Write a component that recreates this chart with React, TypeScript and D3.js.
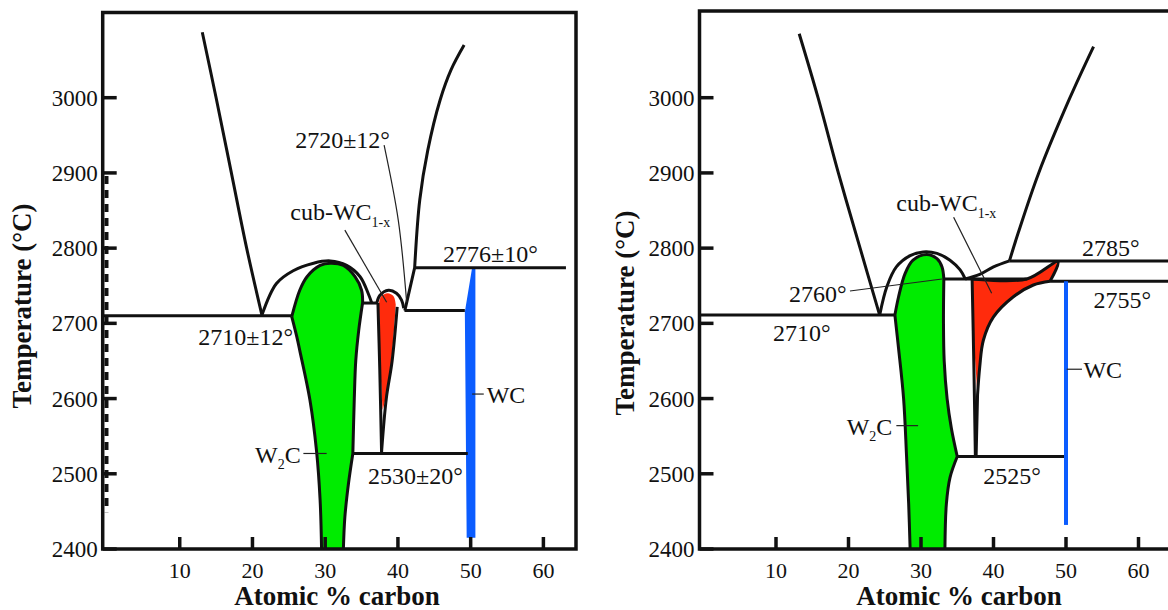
import React from 'react';
import * as d3 from 'd3';

type Pt = [number, number];

// axis ticks
const yTicks = [2400, 2500, 2600, 2700, 2800, 2900, 3000];
const xTicks = [10, 20, 30, 40, 50, 60];

// ---------- left diagram (atomic % C, °C) ----------
const leftLiqA: Pt[] = [[13.1, 3087], [15.0, 3000], [17.1, 2900], [19.2, 2800], [21.3, 2711]];
const rightLiqA: Pt[] = [[49.1, 3070], [47.3, 3037], [45.8, 2997], [44.1, 2930], [43.0, 2864], [42.3, 2774]];
const rightLiqLowA: Pt[] = [[42.3, 2774], [40.95, 2717]];
const domeA: Pt[] = [[21.3, 2711], [23.3, 2753], [25.6, 2770], [28.4, 2780], [30.7, 2783], [32.95, 2777], [34.8, 2762], [35.9, 2740], [36.4, 2727]];
const w2cTopA: Pt[] = [[25.4, 2709], [26.5, 2744], [27.5, 2762], [29.3, 2777], [30.7, 2780], [32.5, 2777], [34.1, 2762], [35.0, 2744], [35.15, 2728]];
const w2cRightA: Pt[] = [[35.15, 2728], [34.6, 2690], [34.2, 2650], [34.0, 2600], [33.8, 2527]];
const w2cRightLowA: Pt[] = [[33.8, 2527], [33.2, 2487], [32.7, 2442], [32.5, 2400]];
const w2cLeftA: Pt[] = [[29.5, 2400], [29.3, 2465], [28.8, 2531], [27.9, 2598], [26.5, 2664], [26.1, 2682], [25.4, 2709]];
const cubDomeA: Pt[] = [[37.1, 2727], [37.5, 2737], [38.7, 2744], [39.8, 2740], [40.5, 2731], [40.8, 2720]];
const cubFillTopA: Pt[] = [[37.4, 2727], [37.7, 2736], [38.6, 2740], [39.4, 2736], [39.7, 2725]];
const cubFillRightA: Pt[] = [[39.7, 2725], [39.1, 2650], [38.3, 2600], [37.9, 2585]];
const cubFillLeftA: Pt[] = [[37.9, 2585], [37.55, 2650], [37.4, 2727]];
const cubLeftA: Pt[] = [[37.25, 2727], [37.5, 2640], [37.75, 2529]];
const cubRightA: Pt[] = [[39.9, 2722], [39.2, 2650], [38.4, 2600], [37.75, 2529]];
const wcBandA: Pt[] = [[50.2, 2774], [50.65, 2774], [50.65, 2415], [49.45, 2415], [49.3, 2600], [49.2, 2715]];
const isoA: Pt[][] = [
  [[-0.6, 2710], [25.4, 2710]],
  [[40.9, 2717], [49.2, 2717]],
  [[42.3, 2774], [63.1, 2774]],
  [[35.15, 2727], [37.2, 2727]],
  [[33.8, 2527], [49.6, 2527]],
];
const dashedA: Pt[] = [[-0.07, 2896], [-0.07, 2449]];
const leadersA: Pt[][] = [
  [[38.1, 2937], [40.05, 2837], [41.2, 2728]],
  [[32.7, 2824], [38.45, 2728]],
  [[27.0, 2527], [30.2, 2527]],
  [[50.2, 2606], [51.8, 2606]],
];
const labelsA = [
  { t: '2720±12°', x: 38.9, y: 2933, anchor: 'end' },
  { t: '2776±10°', x: 46.2, y: 2781, anchor: 'start' },
  { t: '2710±12°', x: 12.55, y: 2671, anchor: 'start' },
  { t: '2530±20°', x: 35.9, y: 2486, anchor: 'start' },
  { t: 'WC', x: 52.2, y: 2594, anchor: 'start' },
];
const cubLabelA: Pt = [25.2, 2837];
const w2cLabelA: Pt = [20.35, 2514];

// ---------- right diagram ----------
const leftLiqB: Pt[] = [[13.2, 3085], [15.8, 3000], [18.6, 2900], [21.6, 2800], [24.3, 2711]];
const rightLiqB: Pt[] = [[53.8, 3068], [50.5, 2999], [46.2, 2899], [43.4, 2820], [42.2, 2783]];
const domeB: Pt[] = [[24.3, 2711], [25.3, 2749], [26.6, 2775], [28.5, 2790], [30.3, 2795], [32.2, 2793], [34.0, 2784], [35.4, 2771], [36.1, 2759]];
const cubLiqB: Pt[] = [[36.1, 2759], [38.1, 2765], [40.0, 2775], [42.2, 2783]];
const w2cTopB: Pt[] = [[26.4, 2711], [26.9, 2735], [27.8, 2766], [28.9, 2784], [30.8, 2791.5], [32.2, 2786], [32.9, 2775], [33.15, 2759]];
const w2cRightB: Pt[] = [[33.15, 2759], [33.1, 2700], [33.2, 2650], [33.6, 2600], [34.2, 2560], [35.0, 2523]];
const w2cRightLowB: Pt[] = [[35.0, 2523], [34.0, 2495], [33.5, 2460], [33.3, 2400]];
const w2cLeftB: Pt[] = [[28.5, 2400], [28.3, 2460], [28.0, 2525], [27.6, 2600], [26.9, 2667], [26.4, 2711]];
const cubTopB: Pt[] = [[37.05, 2759], [44.6, 2759], [48.9, 2782], [47.8, 2756]];
const cubRightB: Pt[] = [[47.8, 2756], [45.5, 2751], [42.7, 2735], [40.0, 2708.5], [38.6, 2677.5], [38.1, 2642], [37.8, 2605]];
const cubRightLowB: Pt[] = [[37.8, 2605], [37.6, 2523]];
const cubFillLeftB: Pt[] = [[37.8, 2605], [37.3, 2680], [37.05, 2759]];
const cubLeftB: Pt[] = [[37.05, 2759], [37.3, 2640], [37.5, 2523]];
const wcLineB: Pt[] = [[50.0, 2756], [50.0, 2432]];
const isoB: Pt[][] = [
  [[-0.55, 2711], [26.4, 2711]],
  [[33.15, 2759], [44.6, 2759]],
  [[42.2, 2783], [66, 2783]],
  [[47.8, 2756], [66, 2756]],
  [[35.0, 2523], [50.0, 2523]],
];
const leadersB: Pt[][] = [
  [[20.2, 2743], [32.9, 2759]],
  [[34.5, 2841], [39.75, 2740]],
  [[26.6, 2564], [29.6, 2564]],
  [[50.1, 2639], [52.2, 2639]],
];
const labelsB = [
  { t: '2710°', x: 9.6, y: 2677, anchor: 'start' },
  { t: '2760°', x: 19.75, y: 2729, anchor: 'end' },
  { t: '2785°', x: 52.2, y: 2789, anchor: 'start' },
  { t: '2755°', x: 53.8, y: 2720, anchor: 'start' },
  { t: '2525°', x: 38.6, y: 2487, anchor: 'start' },
  { t: 'WC', x: 52.4, y: 2627, anchor: 'start' },
];
const cubLabelB: Pt = [26.6, 2849];
const w2cLabelB: Pt = [19.75, 2552];

const GREEN = '#00ec00';
const RED = '#ff2b0c';
const BLUE = '#0b5cff';
const FONT = '"Liberation Serif", "Times New Roman", serif';

type Sc = d3.ScaleLinear<number, number>;

const seg = (xs: Sc, ys: Sc, pts: Pt[], straight = false) =>
  d3.line<Pt>()
    .x(d => xs(d[0]))
    .y(d => ys(d[1]))
    .curve(straight ? d3.curveLinear : d3.curveCatmullRom.alpha(0.5))(pts) || '';

// join several curved pieces into one path, keeping kinks between them
const joined = (xs: Sc, ys: Sc, parts: Pt[][], close = false) =>
  parts.map((p, i) => (i === 0 ? seg(xs, ys, p) : 'L' + seg(xs, ys, p).slice(1))).join('') + (close ? 'Z' : '');

const Panel = ({ cfg }: { cfg: any }) => {
  const xs = d3.scaleLinear().domain([0, 60]).range(cfg.xRange);
  const ys = d3.scaleLinear().domain([2400, 3000]).range([549, 97.7]);
  const bottom = ys(2400);
  const { left, right, top } = cfg.frame;
  const txt = { fontFamily: FONT, fontSize: 24, fill: '#111' };

  return (
    <g>
      {/* phase fills */}
      <path d={joined(xs, ys, cfg.green, true)} fill={GREEN} />
      <path d={joined(xs, ys, cfg.red, true)} fill={RED} />
      {cfg.blueBand && <path d={seg(xs, ys, cfg.blueBand, true) + 'Z'} fill={BLUE} />}

      {/* black phase boundaries */}
      {cfg.black.map((p: Pt[][], i: number) => (
        <path key={i} d={joined(xs, ys, p)} fill="none" stroke="#111" strokeWidth={3} strokeLinejoin="round" />
      ))}
      {cfg.blueLine && (
        <path d={seg(xs, ys, cfg.blueLine, true)} stroke={BLUE} strokeWidth={4} fill="none" />
      )}
      {cfg.dashed && (
        <path d={seg(xs, ys, cfg.dashed, true)} stroke="#111" strokeWidth={4} strokeDasharray="8 6" fill="none" />
      )}
      {cfg.leaders.map((p: Pt[], i: number) => (
        <path key={i} d={seg(xs, ys, p)} fill="none" stroke="#222" strokeWidth={1.2} />
      ))}

      {/* frame */}
      <path d={`M${right},${top}H${left}V${bottom}H${right}${cfg.closed ? 'Z' : ''}`} fill="none" stroke="#111" strokeWidth={3.5} />
      {yTicks.map(t => (
        <g key={t}>
          <line x1={left} x2={left + 14} y1={ys(t)} y2={ys(t)} stroke="#111" strokeWidth={3.5} />
          <text x={left - 5} y={ys(t)} dy="0.35em" textAnchor="end" style={{ ...txt, fontSize: 23 }}>{t}</text>
        </g>
      ))}
      {xTicks.map(t => (
        <g key={t}>
          <line x1={xs(t)} x2={xs(t)} y1={bottom} y2={bottom - 12} stroke="#111" strokeWidth={3.5} />
          <text x={xs(t)} y={578} textAnchor="middle" style={{ ...txt, fontSize: 22 }}>{t}</text>
        </g>
      ))}

      {/* annotations */}
      {cfg.labels.map((l: any) => (
        <text key={l.t} x={xs(l.x)} y={ys(l.y)} textAnchor={l.anchor} style={txt}>{l.t}</text>
      ))}
      <text x={xs(cfg.cubLabel[0])} y={ys(cfg.cubLabel[1])} style={txt}>
        cub-WC<tspan fontSize={14} dy={7}>1-x</tspan>
      </text>
      <text x={xs(cfg.w2cLabel[0])} y={ys(cfg.w2cLabel[1])} style={txt}>
        W<tspan fontSize={14} dy={6}>2</tspan><tspan dy={-6}>C</tspan>
      </text>

      {/* axis titles */}
      <text x={cfg.xTitle} y={605} textAnchor="middle" style={{ fontFamily: FONT, fontSize: 27, fontWeight: 'bold', fill: '#111' }}>
        Atomic % carbon
      </text>
      <text transform={`translate(${cfg.yTitle[0]},${cfg.yTitle[1]}) rotate(-90)`} textAnchor="middle" style={{ fontFamily: FONT, fontSize: 27, fontWeight: 'bold', fill: '#111' }}>
        Temperature (°C)
      </text>
    </g>
  );
};

const panelA = {
  xRange: [107, 543.4],
  frame: { left: 102.7, right: 576, top: 12.5 },
  closed: true,
  green: [w2cTopA, w2cRightA, w2cRightLowA, w2cLeftA],
  red: [cubFillTopA, cubFillRightA, cubFillLeftA],
  blueBand: wcBandA,
  black: [
    [leftLiqA], [rightLiqA, rightLiqLowA], [domeA], [w2cTopA, w2cRightA, w2cRightLowA], [w2cLeftA],
    [cubDomeA], [cubLeftA], [cubRightA], ...isoA.map(s => [s]),
  ],
  dashed: dashedA,
  leaders: leadersA,
  labels: labelsA,
  cubLabel: cubLabelA,
  w2cLabel: w2cLabelA,
  xTitle: 337,
  yTitle: [31, 306],
};

const panelB = {
  xRange: [703.5, 1138.5],
  frame: { left: 699.5, right: 1200, top: 11 },
  closed: false,
  green: [w2cTopB, w2cRightB, w2cRightLowB, w2cLeftB],
  red: [cubTopB, cubRightB, cubFillLeftB],
  black: [
    [leftLiqB], [rightLiqB], [domeB], [cubLiqB], [w2cTopB, w2cRightB, w2cRightLowB], [w2cLeftB],
    [cubTopB], [cubRightB, cubRightLowB], [cubLeftB], ...isoB.map(s => [s]),
  ],
  blueLine: wcLineB,
  leaders: leadersB,
  labels: labelsB,
  cubLabel: cubLabelB,
  w2cLabel: w2cLabelB,
  xTitle: 959,
  yTitle: [634, 313],
};

export default function App() {
  return (
    <svg width={1168} height={610} style={{ position: 'absolute', left: 0, top: 0, background: '#fff' }}>
      <Panel cfg={panelA} />
      <Panel cfg={panelB} />
    </svg>
  );
}
